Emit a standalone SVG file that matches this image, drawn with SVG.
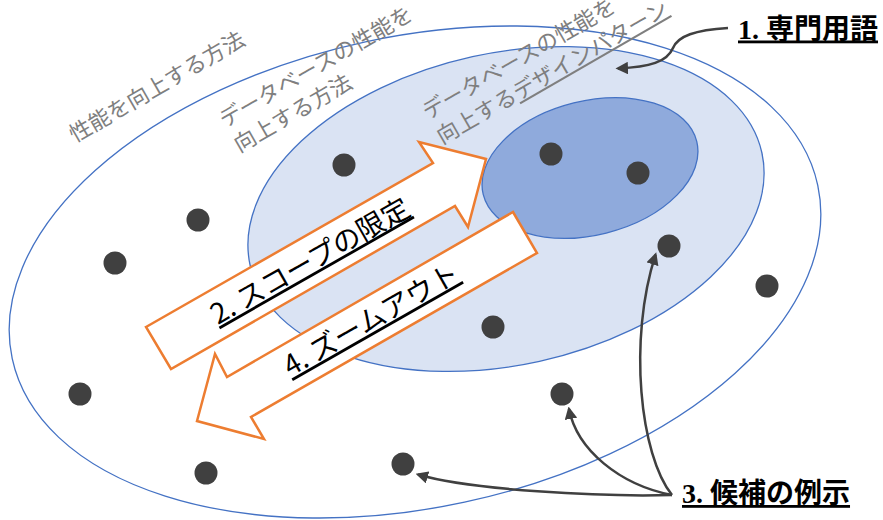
<svg xmlns="http://www.w3.org/2000/svg" width="883" height="520" viewBox="0 0 883 520">
<style>
.ell{stroke:#4472C4;stroke-width:1.3}
.lbl{font-family:"Noto Sans CJK JP",sans-serif;font-size:22px;fill:#7F7F7F}
.dot{fill:#404040}
.blk{fill:#FFFFFF;stroke:#ED7D31;stroke-width:2.5;stroke-linejoin:miter}
.alb{font-family:"Noto Sans CJK JP",sans-serif;font-size:28px;fill:#000000;text-anchor:middle;text-decoration:underline}
.ttl{font-family:"Liberation Serif","Noto Sans CJK JP",serif;font-size:28px;font-weight:bold;fill:#000000;text-decoration:underline}
.conn{fill:none;stroke:#404040;stroke-width:2.5;marker-end:url(#ah)}
</style>
<defs>
<marker id="ah" viewBox="0 0 10 10" refX="8" refY="5" markerWidth="5" markerHeight="5" orient="auto">
<path d="M0,0 L10,5 L0,10 z" fill="#404040"/>
</marker>
</defs>
<rect width="883" height="520" fill="#FFFFFF"/>
<g id="outer">
<ellipse class="ell" cx="415" cy="272" rx="412" ry="235.5" fill="#FFFFFF" transform="rotate(-12.15 415 272)"/>
<text class="lbl" transform="translate(75,143) rotate(-30)">性能を向上する方法</text>
</g>
<g id="middle">
<ellipse class="ell" cx="506" cy="209" rx="262" ry="156" fill="#DAE3F3" transform="rotate(-12.4 506 209)"/>
<text class="lbl" transform="translate(225,128) rotate(-30)"><tspan x="0" y="0">データベースの性能を</tspan><tspan x="0" y="29">向上する方法</tspan></text>
</g>
<g id="inner">
<ellipse class="ell" cx="590" cy="168" rx="110" ry="67" fill="#8FAADC" transform="rotate(-14 590 168)"/>
<text class="lbl" transform="translate(428,120) rotate(-30)"><tspan x="0" y="0">データベースの性能を</tspan><tspan x="0" y="28.5">向上する<tspan style="text-decoration:underline">デザインパターン</tspan></tspan></text>
</g>
<g id="dots">
<circle class="dot" cx="344" cy="165" r="11.5"/>
<circle class="dot" cx="198" cy="220" r="11.5"/>
<circle class="dot" cx="115" cy="263" r="11.5"/>
<circle class="dot" cx="80" cy="394" r="11.5"/>
<circle class="dot" cx="206" cy="473" r="11.5"/>
<circle class="dot" cx="403" cy="464" r="11.5"/>
<circle class="dot" cx="493" cy="327" r="11.5"/>
<circle class="dot" cx="562" cy="394" r="11.5"/>
<circle class="dot" cx="669" cy="246" r="11.5"/>
<circle class="dot" cx="767" cy="286" r="11.5"/>
<circle class="dot" cx="551" cy="154" r="11.5"/>
<circle class="dot" cx="638" cy="173" r="11.5"/>
</g>
<g id="scope">
<polygon class="blk" points="146,327 433,163 419,142 486,159 468,227 455,206 171,369"/>
<text class="alb" transform="translate(315,269.5) rotate(-29.7)">2. スコープの限定</text>
</g>
<g id="zoomout">
<polygon class="blk" points="513,212 537,253 251,417 264,439 197,421 215,354 227,377"/>
<text class="alb" transform="translate(376,328) rotate(-29.7)">4. ズームアウト</text>
</g>
<g id="term">
<text class="ttl" x="738" y="38.5">1. 専門用語</text>
</g>
<g id="examples">
<text class="ttl" x="682" y="503">3. 候補の例示</text>
</g>
<g id="connectors">
<path class="conn" d="M728,28 C695,30 678,36 673,48 C667,62 650,67 618,68.5"/>
<path class="conn" d="M672,495 C600,497 470,490 418,474.5"/>
<path class="conn" d="M672,495 C620,485 577,450 569,409"/>
<path class="conn" d="M672,495 C640,455 628,340 655.5,254.7"/>
</g>
</svg>
